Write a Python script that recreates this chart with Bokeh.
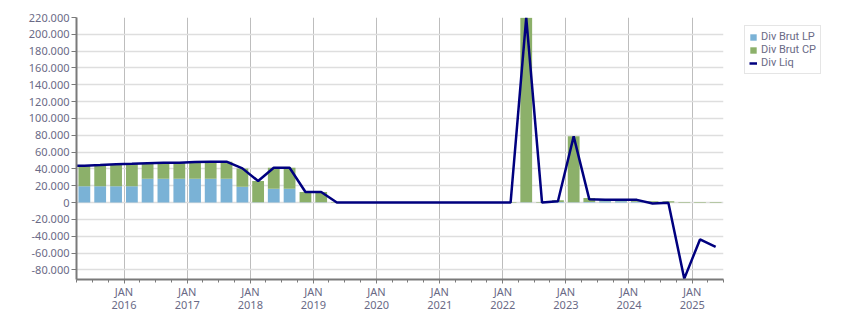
import pandas as pd
from datetime import datetime
from bokeh.plotting import figure
from bokeh.models import (Range1d, FixedTicker, CustomJSTickFormatter, Legend, LegendItem,
                          ColumnDataSource, SingleIntervalTicker)
from bokeh.embed import file_html
from bokeh.resources import INLINE

quarters = ["2015Q1", "2015Q2", "2015Q3", "2015Q4",
            "2016Q1", "2016Q2", "2016Q3", "2016Q4",
            "2017Q1", "2017Q2", "2017Q3", "2017Q4",
            "2018Q1", "2018Q2", "2018Q3", "2018Q4",
            "2019Q1", "2019Q2", "2019Q3", "2019Q4",
            "2020Q1", "2020Q2", "2020Q3", "2020Q4",
            "2021Q1", "2021Q2", "2021Q3", "2021Q4",
            "2022Q1", "2022Q2", "2022Q3", "2022Q4",
            "2023Q1", "2023Q2", "2023Q3", "2023Q4",
            "2024Q1", "2024Q2", "2024Q3", "2024Q4",
            "2025Q1", "2025Q2"]

div_brut_lp = [19500, 19500, 19500, 19500,
               19500, 28200, 28200, 28200,
               28200, 28200, 28200, 18700,
               400, 16300, 16300, 400,
               400, 0, 0, 0,
               0, 0, 0, 0,
               0, 0, 0, 0,
               0, 400, 0, 500,
               400, 500, 1500, 1500,
               1000, 0, 0, 0,
               0, 0]

div_brut_cp = [24300, 24300, 25100, 26100,
               26500, 18600, 19000, 19200,
               20000, 20400, 20400, 21900,
               25200, 25000, 25000, 12100,
               12100, 600, 400, 400,
               400, 400, 400, 400,
               400, 400, 400, 400,
               600, 219400, 600, 2300,
               78300, 5000, 1300, 1300,
               1500, 1500, 1500, 700,
               700, 700]

div_liq = [43800, 43800, 44600, 45600,
           46000, 46800, 47200, 47400,
           48200, 48600, 48600, 40600,
           25600, 41300, 41300, 12500,
           12500, 0, 0, 0,
           0, 0, 0, 0,
           0, 0, 0, 0,
           0, 219800, 0, 1500,
           78700, 3800, 3400, 3400,
           3200, -1200, -200, -90500,
           -43900, -52700]

year_ticks = [2016, 2017, 2018, 2019, 2020, 2021, 2022, 2023, 2024, 2025]

periods = [pd.Period(q, freq="Q") for q in quarters]
mids = [pr.start_time + (pr.end_time - pr.start_time) / 2 for pr in periods]
stack_top = [a + b for a, b in zip(div_brut_lp, div_brut_cp)]

src = ColumnDataSource(dict(x=mids, lp=div_brut_lp, cp_top=stack_top, liq=div_liq))

def ms(dt):
    return (dt - datetime(1970, 1, 1)).total_seconds() * 1000.0

FONT = "Noto Sans"
TXT = "#6a6a86"

p = figure(frame_width=647, frame_height=262, x_axis_type="datetime", output_backend="svg",
           toolbar_location=None,
           x_range=Range1d(ms(datetime(2015, 4, 1)), ms(datetime(2025, 7, 1))),
           y_range=Range1d(-91500, 220000),
           min_border_left=76, min_border_right=128, min_border_top=17, min_border_bottom=34)
p.outline_line_color = None
p.background_fill_color = "white"
p.border_fill_color = "white"

bar_w = 0.75 * 91 * 86400000
r_lp = p.vbar(x="x", bottom=0, top="lp", width=bar_w, source=src,
              fill_color="#7ab2d6", line_color=None)
r_cp = p.vbar(x="x", bottom="lp", top="cp_top", width=bar_w, source=src,
              fill_color="#8cb06a", line_color=None)
r_liq = p.line(x="x", y="liq", source=src, line_color="#00007f", line_width=2.5)

major = [ms(datetime(y, 1, 1)) for y in year_ticks]
minor = [ms(datetime(y, m, 1)) for y in range(2015, 2026) for m in (1, 4, 7, 10)]
p.xaxis.ticker = FixedTicker(ticks=major, minor_ticks=minor)
p.xaxis.formatter = CustomJSTickFormatter(code="""
    const d = new Date(tick);
    return "JAN\\n" + d.getUTCFullYear();
""")
p.yaxis.ticker = SingleIntervalTicker(interval=20000, num_minor_ticks=0)
p.yaxis.formatter = CustomJSTickFormatter(code="""
    const s = Math.abs(Math.round(tick)).toString().replace(/\\B(?=(\\d{3})+(?!\\d))/g, '.');
    return (tick < 0 ? '-' : '') + s;
""")

for ax in (p.xaxis, p.yaxis):
    ax.axis_line_color = "#7a7a7a"
    ax.axis_line_width = 2
    ax.major_tick_line_color = "#7a7a7a"
    ax.minor_tick_line_color = "#7a7a7a"
    ax.major_label_text_font = FONT
    ax.major_label_text_font_size = "11px"
    ax.major_label_text_color = TXT
    ax.major_tick_in = 0
    ax.minor_tick_in = 0

p.yaxis.major_tick_out = 5
p.yaxis.major_label_standoff = 2
p.xaxis.major_tick_out = 4
p.xaxis.minor_tick_out = 3
p.xaxis.major_label_standoff = 0
p.xaxis.major_label_text_line_height = 0.87

p.xgrid.ticker = FixedTicker(ticks=major)
p.xgrid.grid_line_color = "#bdbdbd"
p.xgrid.grid_line_width = 1
p.ygrid.grid_line_color = "#dedede"
p.ygrid.grid_line_width = 1.5

legend = Legend(items=[LegendItem(label="Div Brut LP", renderers=[r_lp]),
                       LegendItem(label="Div Brut CP", renderers=[r_cp]),
                       LegendItem(label="Div Liq", renderers=[r_liq])],
                location=(21, 205), margin=0)
legend.label_text_font = "Roboto"
legend.label_text_font_size = "11px"
legend.label_text_color = TXT
legend.glyph_width = 8
legend.glyph_height = 8
legend.label_height = 13
legend.spacing = 0
legend.padding = 4
legend.label_standoff = 4
legend.border_line_color = "#cccccc"
legend.background_fill_alpha = 1
p.add_layout(legend, "right")

open("out.html", "w").write(file_html(p, INLINE))
